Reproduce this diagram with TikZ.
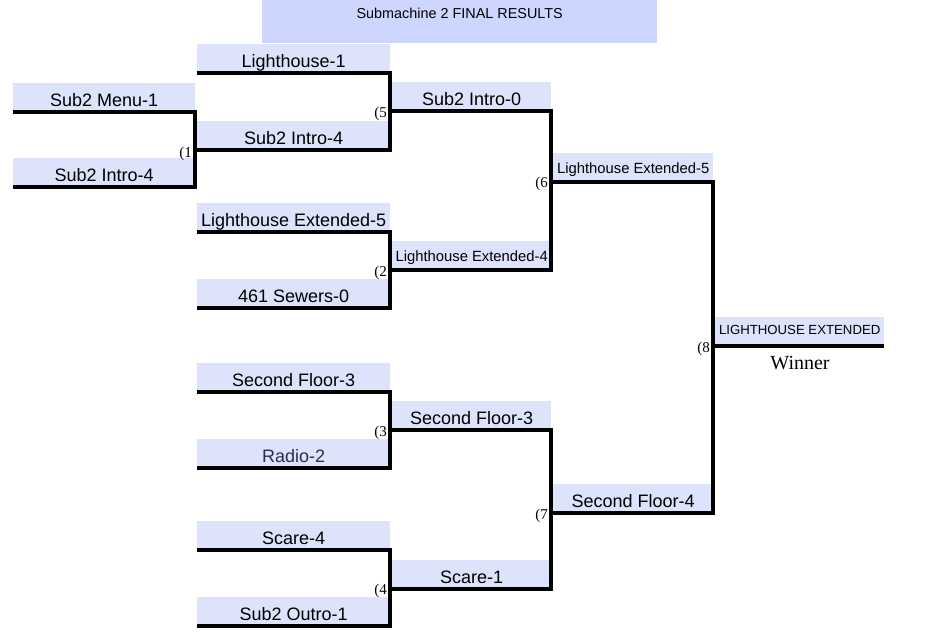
\documentclass[tikz,border=0pt]{standalone}
\usepackage{fontspec}
\setmainfont{Liberation Sans}
\newfontfamily\serifface{Liberation Serif}
\definecolor{entryfill}{RGB}{221,227,251}
\definecolor{titlefill}{RGB}{204,214,255}
\definecolor{radiotext}{RGB}{45,45,80}
\begin{document}
\begin{tikzpicture}[x=1pt,y=-1pt,
  entry/.style={fill=entryfill, anchor=south west, minimum height=29pt, inner sep=0pt,
    text height=17.5pt, text depth=0pt, font=\fontsize{18}{20}\selectfont},
  smalltext/.style={font=\fontsize{14.8}{17}\selectfont, text height=12.7pt},
  wide1/.style={minimum width=182pt},
  wide2/.style={minimum width=193pt},
  wide3/.style={minimum width=159pt},
  wide4/.style={minimum width=160pt},
  bl/.style={line width=4pt, line join=miter},
  mlabel/.style={anchor=base east, inner sep=0pt, font=\serifface\fontsize{15}{17}\selectfont}]
\useasboundingbox (0,0) rectangle (938,640);

\node[fill=titlefill, anchor=north west, minimum width=395pt, inner xsep=0pt, inner ysep=0pt,
  text height=18pt, text depth=25pt, font=\fontsize{14.4}{16}\selectfont] (title) at (262,0) {Submachine 2 FINAL RESULTS};

% round 1 (left)
\node[entry, wide1] (a1) at (13,112) {Sub2 Menu-1};
\node[entry, wide1] (a2) at (13,187) {Sub2 Intro-4};
% column 2
\node[entry, wide2] (b1) at (197,73) {Lighthouse-1};
\node[entry, wide2] (b2) at (197,150) {Sub2 Intro-4};
\node[entry, wide2] (b3) at (197,232) {Lighthouse Extended-5};
\node[entry, wide2] (b4) at (197,308) {461 Sewers-0};
\node[entry, wide2] (b5) at (197,392) {Second Floor-3};
\node[entry, wide2, text=radiotext] (b6) at (197,468) {Radio-2};
\node[entry, wide2] (b7) at (197,550) {Scare-4};
\node[entry, wide2] (b8) at (197,626) {Sub2 Outro-1};
% column 3
\node[entry, wide3] (c1) at (392,111) {Sub2 Intro-0};
\node[entry, wide3, smalltext] (c2) at (392,270) {Lighthouse Extended-4};
\node[entry, wide3] (c3) at (392,430) {Second Floor-3};
\node[entry, wide3] (c4) at (392,589) {Scare-1};
% column 4
\node[entry, wide4, smalltext] (d1) at (553,182) {Lighthouse Extended-5};
\node[entry, wide4] (d2) at (553,513) {Second Floor-4};
% champion
\node[entry, minimum width=169pt, font=\fontsize{13.2}{15}\selectfont, text height=7pt] (e1) at (715,346) {LIGHTHOUSE EXTENDED};
\node[font=\serifface\fontsize{20}{22}\selectfont] (win) at (800,363) {Winner};

% brackets
\draw[bl] (a1.south west) -- (a1.south east) -- (a2.south east) -- (a2.south west);
\draw[bl] (a1.south east |- b2.south) -- (b2.south east);
\draw[bl] (b1.south west) -- (b1.south east) -- (b2.south east) -- (b2.south west);
\draw[bl] (b1.south east |- c1.south) -- (c1.south east);
\draw[bl] (b3.south west) -- (b3.south east) -- (b4.south east) -- (b4.south west);
\draw[bl] (b3.south east |- c2.south) -- (c2.south east);
\draw[bl] (b5.south west) -- (b5.south east) -- (b6.south east) -- (b6.south west);
\draw[bl] (b5.south east |- c3.south) -- (c3.south east);
\draw[bl] (b7.south west) -- (b7.south east) -- (b8.south east) -- (b8.south west);
\draw[bl] (b7.south east |- c4.south) -- (c4.south east);
\draw[bl] (c1.south west) -- (c1.south east) -- (c2.south east) -- (c2.south west);
\draw[bl] (c1.south east |- d1.south) -- (d1.south east);
\draw[bl] (c3.south west) -- (c3.south east) -- (c4.south east) -- (c4.south west);
\draw[bl] (c3.south east |- d2.south) -- (d2.south east);
\draw[bl] (d1.south west) -- (d1.south east) -- (d2.south east) -- (d2.south west);
\draw[bl] (d1.south east |- e1.south) -- (e1.south east);

% match labels
\node[mlabel] (m1) at (192,157) {(1};
\node[mlabel] (m5) at (387,117) {(5};
\node[mlabel] (m2) at (387,276) {(2};
\node[mlabel] (m6) at (548,187.5) {(6};
\node[mlabel] (m3) at (387,436) {(3};
\node[mlabel] (m4) at (387,594) {(4};
\node[mlabel] (m7) at (548,519) {(7};
\node[mlabel] (m8) at (710,352) {(8};
\end{tikzpicture}
\end{document}
